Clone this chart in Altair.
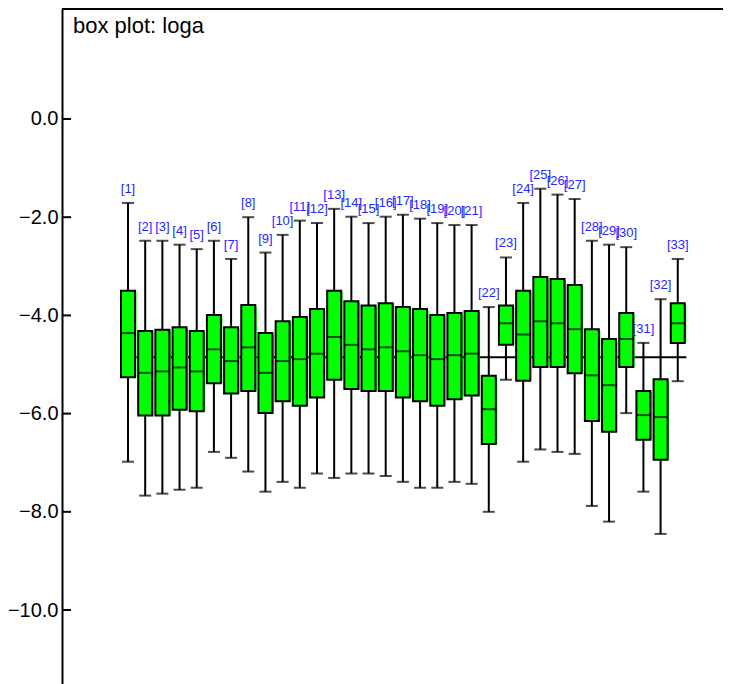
import altair as alt
import pandas as pd

# ---- data ----
labels = [f"[{i}]" for i in range(1, 34)]
idx = list(range(1, 34))
whisker_hi = [-1.71, -2.48, -2.48, -2.56, -2.65, -2.48, -2.85, -2.00, -2.72, -2.36, -2.07,
              -2.12, -1.83, -1.99, -2.12, -1.99, -1.95, -2.03, -2.12, -2.16, -2.16, -3.83,
              -2.82, -1.71, -1.42, -1.54, -1.63, -2.48, -2.56, -2.61, -4.56, -3.67, -2.85]
q3 = [-3.50, -4.32, -4.29, -4.24, -4.32, -3.99, -4.24, -3.79, -4.36, -4.12, -4.03,
      -3.87, -3.50, -3.71, -3.80, -3.75, -3.83, -3.87, -3.99, -3.95, -3.91, -5.23,
      -3.80, -3.50, -3.22, -3.26, -3.38, -4.28, -4.48, -3.95, -5.54, -5.30, -3.75]
median = [-4.36, -5.17, -5.14, -5.06, -5.14, -4.69, -4.93, -4.65, -5.17, -4.93, -4.89,
          -4.78, -4.44, -4.60, -4.69, -4.65, -4.73, -4.81, -4.89, -4.81, -4.78, -5.91,
          -4.16, -4.39, -4.12, -4.16, -4.28, -5.22, -5.42, -4.48, -6.03, -6.07, -4.16]
q1 = [-5.26, -6.04, -6.04, -5.92, -5.95, -5.38, -5.59, -5.54, -5.99, -5.75, -5.84,
      -5.67, -5.31, -5.50, -5.54, -5.54, -5.67, -5.75, -5.84, -5.71, -5.63, -6.62,
      -4.60, -5.33, -5.05, -5.05, -5.18, -6.15, -6.37, -5.05, -6.53, -6.94, -4.56]
whisker_lo = [-6.98, -7.67, -7.63, -7.55, -7.51, -6.78, -6.90, -7.18, -7.59, -7.39, -7.51,
              -7.22, -7.31, -7.22, -7.22, -7.27, -7.39, -7.51, -7.51, -7.39, -7.43, -8.00,
              -5.31, -6.98, -6.73, -6.78, -6.82, -7.88, -8.20, -5.99, -7.59, -8.45, -5.34]
overall_median = [-4.85]
y_ticks = [0.0, -2.0, -4.0, -6.0, -8.0, -10.0]
title_text = ["box plot: loga"]

df = pd.DataFrame({"idx": idx, "label": labels, "hi": whisker_hi, "q3": q3,
                   "med": median, "q1": q1, "lo": whisker_lo})
ref_df = pd.DataFrame({"x": [idx[0]], "x2": [idx[-1] + 0.5], "y": overall_median})
tick_df = pd.DataFrame({"v": y_ticks})
title_df = pd.DataFrame({"t": title_text})

W, H = 661, 676
xs = alt.Scale(domain=[-2.842, 35.633], nice=False, zero=False, padding=0)
ys = alt.Scale(domain=[-11.527, 2.240], nice=False, zero=False, padding=0)

X = alt.X("idx:Q", scale=xs, axis=None)
yaxis = alt.Axis(values=y_ticks, format=".1f", labelFontSize=20, labelFont="Liberation Sans",
                 labelColor="black", ticks=False, tickSize=0, labelPadding=4,
                 domainColor="black", domainWidth=2, grid=False, title=None)

base = alt.Chart(df)

ref = alt.Chart(ref_df).mark_rule(color="black", strokeWidth=2).encode(
    x=alt.X("x:Q", scale=xs, axis=None), x2="x2:Q",
    y=alt.Y("y:Q", scale=ys, axis=yaxis))

whisk = base.mark_rule(color="black", strokeWidth=2).encode(
    x=X, y=alt.Y("lo:Q", scale=ys), y2="hi:Q")

cap_hi = base.mark_tick(orient="horizontal", size=12, thickness=2, color="black").encode(
    x=X, y=alt.Y("hi:Q", scale=ys))
cap_lo = base.mark_tick(orient="horizontal", size=12, thickness=2, color="black").encode(
    x=X, y=alt.Y("lo:Q", scale=ys))

shadow = base.mark_bar(size=14, color="#00ff00", xOffset=1.5, yOffset=1.5).encode(
    x=X, y=alt.Y("q3:Q", scale=ys), y2="q1:Q")

box = base.mark_bar(size=14, fill="#00ff00", stroke="black", strokeWidth=2).encode(
    x=X, y=alt.Y("q3:Q", scale=ys), y2="q1:Q")

med = base.mark_tick(orient="horizontal", size=14, thickness=2, color="black").encode(
    x=X, y=alt.Y("med:Q", scale=ys))

lab = base.mark_text(fontSize=13, font="Liberation Sans", color="#2626ff",
                     baseline="alphabetic", dy=-10).encode(
    x=X, y=alt.Y("hi:Q", scale=ys), text="label:N")

ticks = alt.Chart(tick_df).mark_rule(color="black", strokeWidth=2).encode(
    x=alt.value(0), x2=alt.value(9), y=alt.Y("v:Q", scale=ys))

top_line = alt.Chart(tick_df).mark_rule(color="black", strokeWidth=2).encode(
    x=alt.value(0), x2=alt.value(W), y=alt.value(0))

title = alt.Chart(title_df).mark_text(fontSize=22, font="Liberation Sans", color="black",
                                       align="left", baseline="alphabetic").encode(
    x=alt.value(11), y=alt.value(24), text="t:N")

chart = alt.layer(ref, whisk, cap_hi, cap_lo, shadow, box, med, lab, ticks, top_line, title).properties(
    width=W, height=H,
    autosize=alt.AutoSizeParams(type="none"),
    padding={"left": 54, "top": 1, "right": 0, "bottom": 0},
    background="white",
).configure_view(stroke=None)

chart.save("out.html", embed_options={"renderer": "svg", "actions": False})
